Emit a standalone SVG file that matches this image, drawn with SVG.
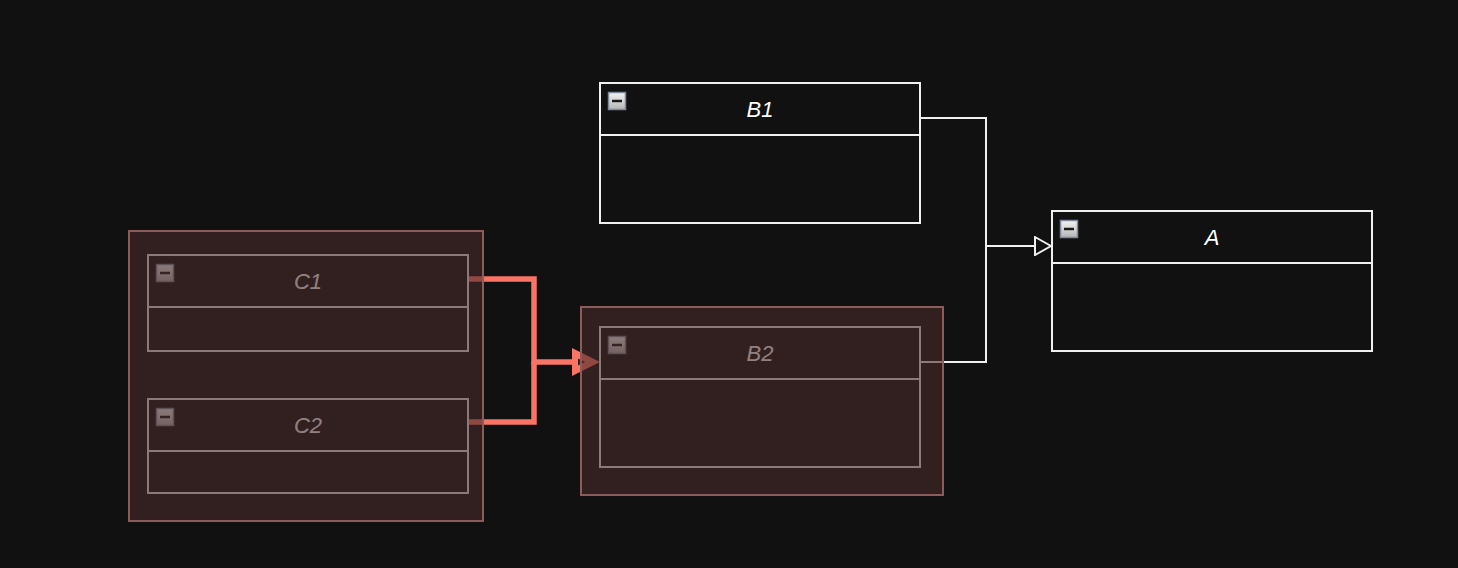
<svg xmlns="http://www.w3.org/2000/svg" width="1458" height="568" viewBox="0 0 1458 568">
<defs>
<linearGradient id="ig" x1="0" y1="0" x2="0" y2="1">
<stop offset="0" stop-color="#f4f4f4"/>
<stop offset="1" stop-color="#b4b4b4"/>
</linearGradient>
<marker id="hollow" viewBox="0 0 18 20" refX="17" refY="10" markerWidth="18" markerHeight="20" markerUnits="userSpaceOnUse" orient="auto">
<path d="M1,1 L17,10 L1,19 Z" fill="#111111" stroke="#f0f0f0" stroke-width="2"/>
</marker>
</defs>
<style>
.node rect.box{fill:#111111;stroke:#f0f0f0;stroke-width:2}
.node line.div{stroke:#f0f0f0;stroke-width:2}
.node text{font-family:"Liberation Sans",Arial,sans-serif;font-style:italic;font-size:22px;fill:#ffffff;text-anchor:middle}
.icon rect{fill:url(#ig);stroke:#7e899a;stroke-width:1.5}
.icon line{stroke:#1a1a1a;stroke-width:2.5}
.edge{fill:none;stroke:#f0f0f0;stroke-width:2}
.hl{fill:none;stroke:#fa7466;stroke-width:5.5}
.grp{fill:#4a2c2c;fill-opacity:0.6;stroke:#8c5c5a;stroke-width:2}
</style>
<rect width="1458" height="568" fill="#111111"/>

<g id="connectors">
<polyline class="edge" points="920,118 986,118 986,246 1051,246" marker-end="url(#hollow)"/>
<polyline class="edge" points="920,362 986,362 986,246"/>
<polyline class="hl" points="468,279 534,279 534,362 574,362"/>
<polyline class="hl" points="468,422 534,422 534,362"/>
<path d="M572,348 L600,362 L572,376 Z" fill="#fa7466"/>
<path d="M578,358.5 L585,362 L578,365.5 Z" fill="#3a1e1e"/>
</g>

<g id="node-B1" class="node">
<rect class="box" x="600" y="83" width="320" height="140"/>
<line class="div" x1="600" y1="135" x2="920" y2="135"/>
<g class="icon"><rect x="608.5" y="92.5" width="17" height="17"/><line x1="612" y1="101" x2="622" y2="101"/></g>
<text x="760" y="117">B1</text>
</g>

<g id="node-A" class="node">
<rect class="box" x="1052" y="211" width="320" height="140"/>
<line class="div" x1="1052" y1="263" x2="1372" y2="263"/>
<g class="icon"><rect x="1060.5" y="220.5" width="17" height="17"/><line x1="1064" y1="229" x2="1074" y2="229"/></g>
<text x="1212" y="245">A</text>
</g>

<g id="node-C1" class="node">
<rect class="box" x="148" y="255" width="320" height="96"/>
<line class="div" x1="148" y1="307" x2="468" y2="307"/>
<g class="icon"><rect x="156.5" y="264.5" width="17" height="17"/><line x1="160" y1="273" x2="170" y2="273"/></g>
<text x="308" y="289">C1</text>
</g>

<g id="node-C2" class="node">
<rect class="box" x="148" y="399" width="320" height="94"/>
<line class="div" x1="148" y1="451" x2="468" y2="451"/>
<g class="icon"><rect x="156.5" y="408.5" width="17" height="17"/><line x1="160" y1="417" x2="170" y2="417"/></g>
<text x="308" y="433">C2</text>
</g>

<g id="node-B2" class="node">
<rect class="box" x="600" y="327" width="320" height="140"/>
<line class="div" x1="600" y1="379" x2="920" y2="379"/>
<g class="icon"><rect x="608.5" y="336.5" width="17" height="17"/><line x1="612" y1="345" x2="622" y2="345"/></g>
<text x="760" y="361">B2</text>
</g>

<g id="group-C">
<rect class="grp" x="129" y="231" width="354" height="290"/>
</g>
<g id="group-B2">
<rect class="grp" x="581" y="307" width="362" height="188"/>
</g>
</svg>
